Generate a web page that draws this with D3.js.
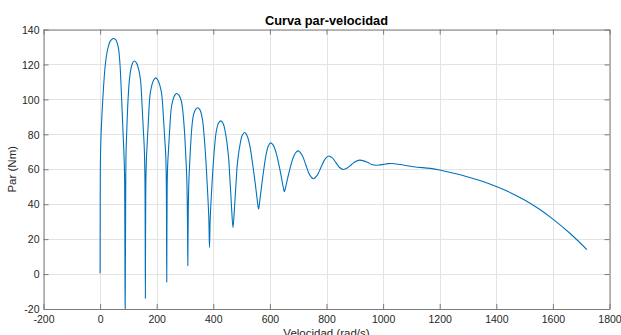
<!DOCTYPE html>
<html>
<head>
<meta charset="utf-8">
<script src="https://cdn.jsdelivr.net/npm/d3@7"></script>
<style>
  html, body { margin: 0; padding: 0; background: #fff; }
  svg { display: block; }
  text { font-family: "Liberation Sans", Arial, Helvetica, sans-serif; }
</style>
</head>
<body>
<svg id="chart" width="621" height="335"></svg>
<script>
// ---- data ----
const chartTitle = "Curva par-velocidad";
const xLabel = "Velocidad (rad/s)";
const yLabel = "Par (Nm)";
const xTicks = [-200, 0, 200, 400, 600, 800, 1000, 1200, 1400, 1600, 1800];
const yTicks = [-20, 0, 20, 40, 60, 80, 100, 120, 140];

const speed = [
  0, 0.3, 0.8, 2, 4, 10, 19, 28.7, 37, 46, 55, 64, 70, 75.8, 80.7, 84, 86.4, 88.5,
  90.5, 91.8, 95.1, 98.5, 103.4, 108.4, 115.1, 121.7,
  129.4, 137, 142.8, 148.5, 152.3, 156.2, 158.5, 160,
  161.4, 163.6, 167.2, 170.8, 176.2, 181.6, 188.8, 196,
  203.9, 211.8, 217.7, 223.7, 227.6, 231.6, 233.9, 235.5,
  236.9, 239, 242.5, 246, 251.3, 256.5, 263.5, 270.5,
  278.4, 286.3, 292.2, 298.2, 302.1, 306.4, 308.8, 310,
  311, 313.1, 316.9, 320.4, 325.5, 330.7, 337.6, 344.5,
  352.9, 361.3, 367.6, 373.9, 378.5, 384, 386.5,
  388.9, 394.2, 398.7, 404.7, 410.8, 418.9, 427,
  435.5, 445.3, 450.4, 455.1, 457.7, 462.4, 465.3, 469.6,
  473.7, 476.6, 481.1, 483.5, 488.1, 493, 502.4, 510.6,
  520.5, 530.4, 537.8, 545.2, 552.6, 557.5, 560,
  562.1, 566.4, 572.8, 579.1, 585.5, 594, 602.5,
  612.2, 621.9, 629.2, 636.5, 643.7, 648.6, 651,
  653.5, 658.4, 665.7, 673.1, 680.4, 690.2, 700,
  713.4, 726.8, 740.1, 753.5, 767, 780.6, 794.1, 807.6,
  820.5, 833.3, 846.2, 859, 873.5, 888, 902.5, 917,
  931.5, 946, 960.5, 975, 989.2, 1003.4, 1017.5, 1031.7,
  1060, 1108, 1167, 1200, 1250, 1300, 1350, 1400, 1450, 1500, 1550, 1600, 1660, 1720
];
const torque = [
  0.5, 30, 60, 72, 82.4, 101.4, 120.7, 130, 133.6, 134.8, 134.2, 130, 120.7, 101.4, 82.4, 70, 57, -26,
  50, 70, 86, 99, 111, 117, 121, 122,
  120.6, 116.6, 111.1, 96.2, 83.9, 71.7, 54.1, -13.9,
  49.2, 65.6, 77, 88.3, 102.2, 107.3, 111, 112.3,
  111.1, 107.6, 102.9, 90.1, 79.6, 69, 53.9, -4.6,
  49.4, 63.4, 73.2, 82.9, 94.8, 99.1, 102.3, 103.4,
  102.4, 99.5, 93.5, 81.7, 69.9, 54.1, 29.5, 4.8,
  27.4, 50, 64.5, 75.3, 86.2, 91.6, 94.3, 95.2,
  94, 88.8, 79.2, 64.8, 51.3, 32.9, 15.3,
  31.2, 47.9, 60.2, 73.2, 81.9, 86.6, 87.7,
  85.9, 78.5, 72.4, 64.5, 57.2, 44.3, 35.8, 26.6,
  34.8, 42.4, 53.8, 60.3, 67.4, 72.8, 79.4, 81,
  78.8, 72.2, 64.4, 55.6, 46, 39.4, 37.2,
  39.1, 44.8, 53.1, 60.7, 67.5, 73.2, 75.1,
  73.7, 69.5, 64.5, 58.9, 52.7, 48.5, 47.1,
  48.3, 51.8, 56.9, 61.6, 65.8, 69.3, 70.5,
  68.2, 62.6, 56.9, 54.6, 56.5, 61.1, 65.7, 67.6,
  66.5, 63.8, 61, 59.9, 60.7, 62.6, 64.4, 65.2,
  64.8, 63.8, 62.7, 62.3, 62.5, 62.8, 63.2, 63.3,
  62.7, 61.4, 60.5, 59.6, 57.7, 55.6, 53.1, 50.1, 46.6, 42.35, 37.35, 31.45, 23.35, 14.05
];

// ---- layout ----
const svg = d3.select("#chart");
const L = 43.5, R = 609.5, T = 29.5, B = 309;
const x = d3.scaleLinear().domain([-200, 1800]).range([L, R]);
const y = d3.scaleLinear().domain([-20, 140]).range([B, T]);

const axisColor = "#7a7a7a";
const textColor = "#262626";

// grid
svg.append("g").selectAll("line.gx").data(xTicks).join("line")
  .attr("x1", d => Math.round(x(d)) + 0.5).attr("x2", d => Math.round(x(d)) + 0.5)
  .attr("y1", T).attr("y2", B)
  .attr("stroke", "#e3e3e3").attr("stroke-width", 1);
svg.append("g").selectAll("line.gy").data(yTicks).join("line")
  .attr("y1", d => Math.round(y(d)) + 0.5).attr("y2", d => Math.round(y(d)) + 0.5)
  .attr("x1", L).attr("x2", R)
  .attr("stroke", "#e3e3e3").attr("stroke-width", 1);

// clip
svg.append("clipPath").attr("id", "clip").append("rect")
  .attr("x", L).attr("y", T).attr("width", R - L).attr("height", B - T);

// data line
const pts = speed.map((s, i) => [s, torque[i]]);
const line = d3.line().x(d => x(d[0])).y(d => y(d[1])).curve(d3.curveCatmullRom.alpha(0.5));
svg.append("path")
  .attr("clip-path", "url(#clip)")
  .attr("d", line(pts))
  .attr("fill", "none")
  .attr("stroke", "#0072BD")
  .attr("stroke-width", 1.1)
  .attr("stroke-linejoin", "round");

// axes using d3 axis generators (inward ticks)
const tl = 5;
const fmt = d => String(d);
const xb = svg.append("g").attr("transform", `translate(0,${B})`)
  .call(d3.axisBottom(x).tickValues(xTicks).tickFormat(fmt).tickSizeInner(-tl).tickSizeOuter(0).tickPadding(6.5));
const xt = svg.append("g").attr("transform", `translate(0,${T})`)
  .call(d3.axisTop(x).tickValues(xTicks).tickFormat("").tickSizeInner(-tl).tickSizeOuter(0));
const yl = svg.append("g").attr("transform", `translate(${L},0)`)
  .call(d3.axisLeft(y).tickValues(yTicks).tickFormat(fmt).tickSizeInner(-tl).tickSizeOuter(0).tickPadding(4));
const yr = svg.append("g").attr("transform", `translate(${R},0)`)
  .call(d3.axisRight(y).tickValues(yTicks).tickFormat("").tickSizeInner(-tl).tickSizeOuter(0));

[xb, xt, yl, yr].forEach(g => {
  g.select(".domain").attr("stroke", axisColor);
  g.selectAll(".tick line").attr("stroke", axisColor);
  g.selectAll(".tick text").attr("fill", textColor).attr("font-size", 10.5)
    .attr("font-family", "'Liberation Sans', Arial, sans-serif");
});
yl.selectAll(".tick text").attr("dy", "0.35em");

// title & labels
svg.append("text").attr("x", (L + R) / 2).attr("y", 25)
  .attr("text-anchor", "middle").attr("font-weight", "bold").attr("font-size", 12.8)
  .attr("fill", "#000").text(chartTitle);
svg.append("text").attr("x", (L + R) / 2).attr("y", 337)
  .attr("text-anchor", "middle").attr("font-size", 11.5)
  .attr("fill", textColor).text(xLabel);
svg.append("text").attr("transform", `translate(16,${(T + B) / 2}) rotate(-90)`)
  .attr("text-anchor", "middle").attr("font-size", 11.5)
  .attr("fill", textColor).text(yLabel);
</script>
</body>
</html>
